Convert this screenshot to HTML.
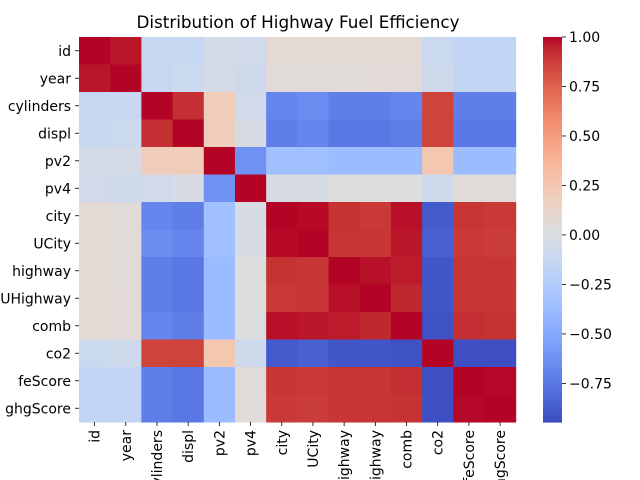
<!DOCTYPE html>
<html><head><meta charset="utf-8"><style>body{margin:0;background:#fff}svg{display:block;font-family:"DejaVu Sans","Liberation Sans",sans-serif}</style></head>
<body>
<svg id="chart" width="640" height="480">
<text x="298" y="28" font-size="16.8" text-anchor="middle" fill="#000">Distribution of Highway Fuel Efficiency</text>
<g id="cells"></g><g id="ylabels"></g><g id="xlabels"></g><g id="cbar"></g>
</svg>
<script>
const labels=["id","year","cylinders","displ","pv2","pv4","city","UCity","highway","UHighway","comb","co2","feScore","ghgScore"];
const upper=[
[0.97,-0.12,-0.12,-0.05,-0.07,0.07,0.07,0.07,0.07,0.07,-0.10,-0.15,-0.15],
[-0.12,-0.10,-0.03,-0.08,0.05,0.05,0.05,0.06,0.06,-0.08,-0.15,-0.15],
[0.92,0.20,-0.07,-0.68,-0.65,-0.72,-0.72,-0.68,0.86,-0.72,-0.72],
[0.20,-0.02,-0.72,-0.68,-0.75,-0.75,-0.72,0.86,-0.75,-0.75],
[-0.62,-0.35,-0.35,-0.38,-0.38,-0.38,0.25,-0.38,-0.38],
[-0.02,-0.02,0.03,0.03,0.02,-0.08,0.05,0.05],
[0.99,0.91,0.89,0.98,-0.88,0.90,0.89],
[0.90,0.90,0.97,-0.86,0.89,0.88],
[0.98,0.96,-0.90,0.90,0.90],
[0.94,-0.90,0.90,0.90],
[-0.92,0.92,0.91],
[-0.93,-0.93],
[0.995]
];
const cbTicks=[1.00,0.75,0.50,0.25,0.00,-0.25,-0.50,-0.75];
const vmin=-0.945, vmax=1.0;
const X0=79,X1=515.7,Y0=37,Y1=422,n=labels.length;
const cw=(X1-X0)/n, ch=(Y1-Y0)/n;
const stops=[[59,76,192],[68,90,204],[77,104,215],[87,117,225],[98,130,234],[108,142,241],[119,154,247],[130,165,251],[141,176,254],[152,185,255],[163,194,255],[174,201,253],[184,208,249],[194,213,244],[204,217,238],[213,219,230],[221,221,221],[229,216,209],[236,211,197],[241,204,185],[245,196,173],[247,187,160],[247,177,148],[247,166,135],[244,154,123],[241,141,111],[236,127,99],[229,112,88],[222,96,77],[213,80,66],[203,62,56],[192,40,47],[180,4,38]];
function cmap(v){const m=stops.length-1;let t=(v-vmin)/(vmax-vmin);t=Math.max(0,Math.min(1,t))*m;let i=Math.min(m-1,Math.floor(t)),f=t-i;const a=stops[i],b=stops[i+1];return `rgb(${a.map((c,k)=>Math.round(c+(b[k]-c)*f)).join(',')})`;}
function val(i,j){if(i===j)return 1;if(i>j)[i,j]=[j,i];return upper[i][j-i-1];}
const NS="http://www.w3.org/2000/svg";
function mk(tag,attrs,parent){const e=document.createElementNS(NS,tag);for(const k in attrs)e.setAttribute(k,attrs[k]);parent.appendChild(e);return e;}
const cells=document.getElementById('cells');
for(let i=0;i<n;i++)for(let j=0;j<n;j++){
 const r=mk('rect',{x:X0+j*cw,y:Y0+i*ch,width:cw+0.5,height:ch+0.5,fill:cmap(val(i,j))},cells);
 
 
}
const yl=document.getElementById('ylabels'),xl=document.getElementById('xlabels');
labels.forEach((l,i)=>{
 const y=Y0+(i+0.5)*ch;
 mk('line',{x1:X0-4,x2:X0,y1:y,y2:y,stroke:'#000','stroke-width':0.8},yl);
 const t=mk('text',{x:X0-8,y:y+5,'font-size':14,'text-anchor':'end'},yl);t.textContent=l;
 
 
 const x=X0+(i+0.5)*cw;
 mk('line',{x1:x,x2:x,y1:Y1,y2:Y1+4,stroke:'#000','stroke-width':0.8},xl);
 const tx=mk('text',{x:x+5,y:Y1+8,'font-size':14,'text-anchor':'end',transform:`rotate(-90 ${x+5} ${Y1+8})`},xl);tx.textContent=l;
 
 
});
const cb=document.getElementById('cbar');
const CX=543,CW=19;
for(let k=0;k<200;k++){
 const y=Y0+(Y1-Y0)*k/200;const v=vmax-(vmax-vmin)*(k+0.5)/200;
 const r=mk('rect',{x:CX,y:y,width:CW,height:(Y1-Y0)/200+0.6,fill:cmap(v)},cb);
 
 
}
cbTicks.forEach(v=>{
 const y=Y0+(vmax-v)/(vmax-vmin)*(Y1-Y0);
 mk('line',{x1:CX+CW,x2:CX+CW+4,y1:y,y2:y,stroke:'#000','stroke-width':0.8},cb);
 const t=mk('text',{x:CX+CW+7,y:y+5,'font-size':14},cb);t.textContent=(v<0?'\u2212':'')+Math.abs(v).toFixed(2);
 
 
});
</script>
</body></html>
